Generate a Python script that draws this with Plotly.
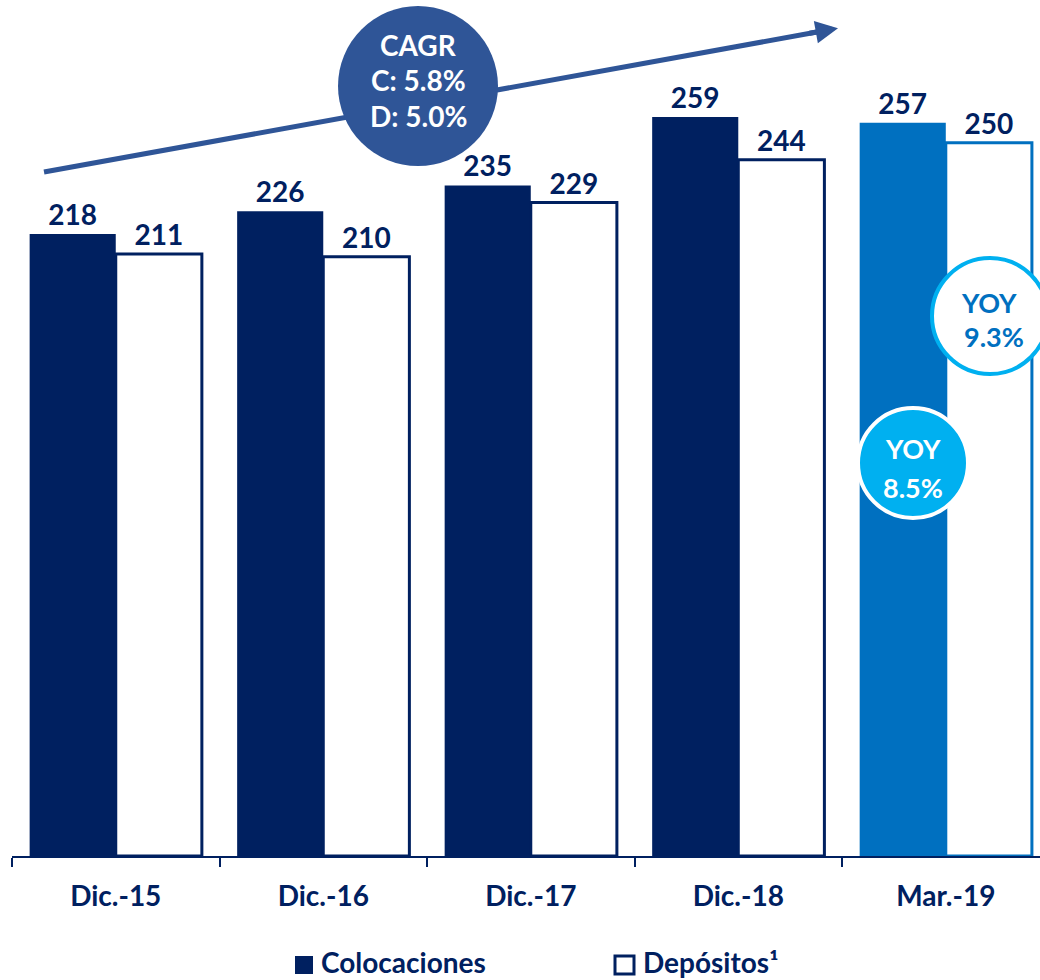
import plotly.graph_objects as go

categories = ["Dic.-15", "Dic.-16", "Dic.-17", "Dic.-18", "Mar.-19"]
colocaciones = [218, 226, 235, 259, 257]
depositos = [211, 210, 229, 244, 250]
cagr_lines = ["CAGR", "C: 5.8%", "D: 5.0%"]
yoy_coloc = ["YOY", "8.5%"]
yoy_dep = ["YOY", "9.3%"]
legend_names = ["Colocaciones", "Depósitos¹"]

NAVY = "#002060"
BLUE = "#0070C0"
LIGHT = "#00B0F0"
STEEL = "#2F5597"
FONT = "Lato"

W, H = 1040, 980
L, B = 12, 124
PW, PH = W - L, H - B

def px(x):
    return (x - L) / PW

def py(y):
    return (H - B - y) / PH

fig = go.Figure()
fig.add_trace(go.Bar(
    x=categories, y=colocaciones, name=legend_names[0],
    marker=dict(color=[NAVY] * 4 + [BLUE], line=dict(width=0)),
    text=[str(v) for v in colocaciones], textposition="outside",
    textfont=dict(family=FONT, size=28, color=NAVY, weight="bold"),
    cliponaxis=False,
))
fig.add_trace(go.Bar(
    x=categories, y=depositos, name=legend_names[1],
    marker=dict(color="white", line=dict(width=3, color=[NAVY] * 4 + [BLUE])),
    text=[str(v) for v in depositos], textposition="outside",
    textfont=dict(family=FONT, size=28, color=NAVY, weight="bold"),
    cliponaxis=False,
))

shapes = []
annotations = []

def label(x, y, t, size, color, anchor="center"):
    annotations.append(dict(xref="paper", yref="paper", x=px(x), y=py(y),
                            xanchor=anchor, yanchor="middle",
                            text=f"<b>{t}</b>", showarrow=False,
                            font=dict(family=FONT, size=size, color=color)))

# CAGR trend arrow line (behind circle)
x0a, y0a, x1a, y1a = 44, 172, 828, 30
shapes.append(dict(type="line", xref="paper", yref="paper",
                   x0=px(x0a), y0=py(y0a), x1=px(x1a), y1=py(y1a),
                   line=dict(color=STEEL, width=5)))
# arrowhead
annotations.append(dict(xref="paper", yref="paper", x=px(838), y=py(28.2),
                        ax=-30, ay=5.4, showarrow=True, arrowhead=2,
                        arrowsize=0.9, arrowwidth=5, arrowcolor=STEEL, text=""))
# CAGR circle
cx, cy, r = 418, 86, 80
shapes.append(dict(type="circle", xref="paper", yref="paper",
                   x0=px(cx - r), x1=px(cx + r), y0=py(cy + r), y1=py(cy - r),
                   fillcolor=STEEL, line=dict(width=0)))
for t, yy in zip(cagr_lines, [45, 80, 116]):
    label(cx, yy, t, 28, "white")

# YOY depositos circle
cx, cy, r = 990, 316, 58
shapes.append(dict(type="circle", xref="paper", yref="paper",
                   x0=px(cx - r), x1=px(cx + r), y0=py(cy + r), y1=py(cy - r),
                   fillcolor="white", line=dict(width=4, color=LIGHT)))
label(989, 302, yoy_dep[0], 27, BLUE)
label(994, 336, yoy_dep[1], 27, BLUE)

# YOY colocaciones circle
cx, cy, r = 913, 463, 55
shapes.append(dict(type="circle", xref="paper", yref="paper",
                   x0=px(cx - r), x1=px(cx + r), y0=py(cy + r), y1=py(cy - r),
                   fillcolor=LIGHT, line=dict(width=4, color="white")))
label(cx, 448, yoy_coloc[0], 27, "white")
label(cx, 487, yoy_coloc[1], 27, "white")

# Legend
shapes.append(dict(type="rect", xref="paper", yref="paper",
                   x0=px(295), x1=px(313), y0=py(974), y1=py(956),
                   fillcolor=NAVY, line=dict(width=0)))
shapes.append(dict(type="rect", xref="paper", yref="paper",
                   x0=px(615), x1=px(634), y0=py(974), y1=py(956),
                   fillcolor="white", line=dict(width=3, color=NAVY)))
label(319, 962, legend_names[0], 28, NAVY, anchor="left")
label(641, 962, legend_names[1], 28, NAVY, anchor="left")

fig.update_layout(
    width=W, height=H,
    margin=dict(l=L, r=0, t=0, b=B),
    paper_bgcolor="white", plot_bgcolor="white",
    barmode="group", bargap=0.17, bargroupgap=0,
    showlegend=False,
    shapes=shapes, annotations=annotations,
    xaxis=dict(type="category", range=[-0.5, 4.454], showgrid=False,
               showline=True, linecolor=NAVY, linewidth=2,
               ticks="outside", tickson="boundaries", ticklen=9, tickwidth=2,
               tickcolor=NAVY, ticklabelstandoff=14,
               tickfont=dict(family=FONT, size=28, color=NAVY, weight="bold"),
               fixedrange=True),
    yaxis=dict(range=[0, 300], visible=False, showgrid=False, zeroline=False,
               fixedrange=True),
)

fig.write_html("out.html", config=dict(displayModeBar=False),
               post_script="document.body.style.margin='0';document.body.style.overflow='hidden';")
